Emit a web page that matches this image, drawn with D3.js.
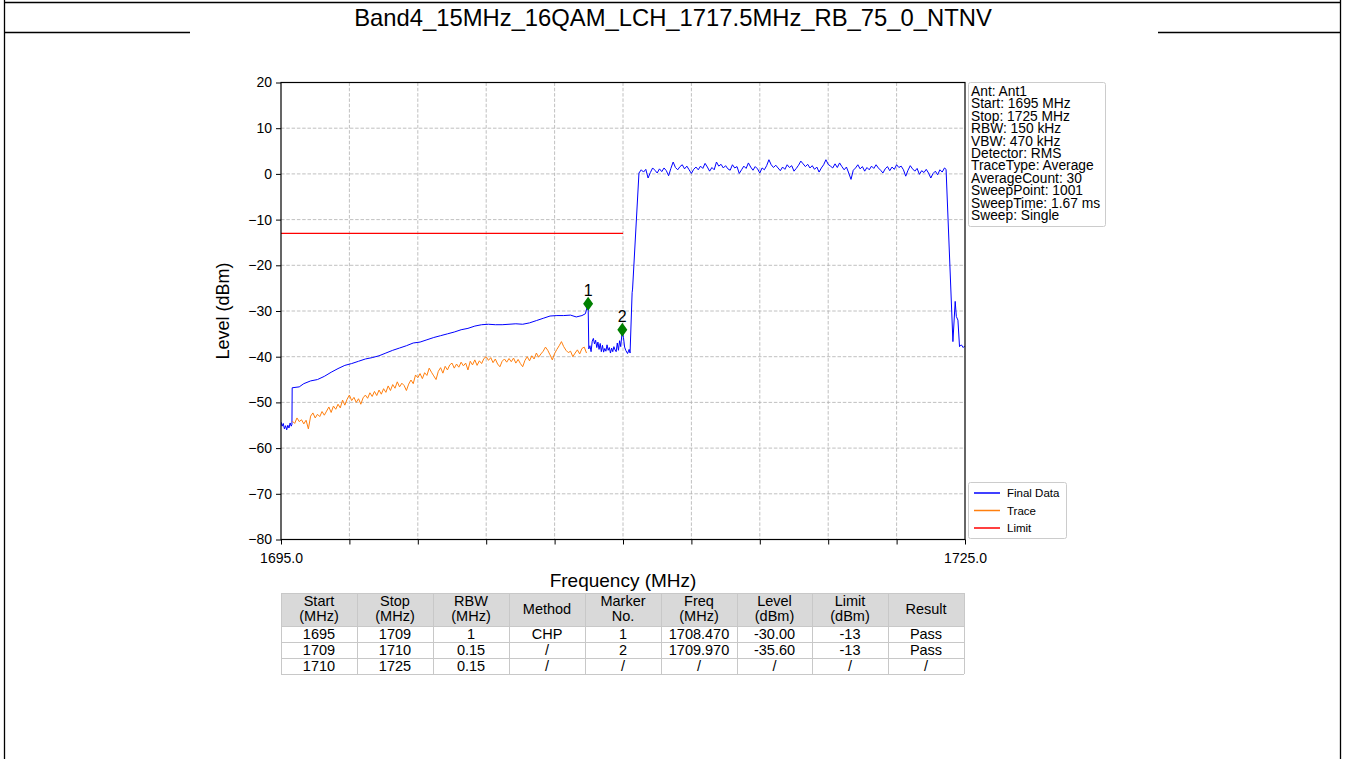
<!DOCTYPE html>
<html>
<head>
<meta charset="utf-8">
<script src="https://d3js.org/d3.v7.min.js"></script>
<style>
  html, body { margin: 0; padding: 0; background: #fff; }
  svg { display: block; font-family: "Liberation Sans", Arial, sans-serif; }
</style>
</head>
<body>
<svg id="chart" width="1345" height="759"></svg>
<script>
// ---------------- data ----------------
const title = "Band4_15MHz_16QAM_LCH_1717.5MHz_RB_75_0_NTNV";
const freqTicks = [1695, 1698, 1701, 1704, 1707, 1710, 1713, 1716, 1719, 1722, 1725];
const freqTickLabels = {1695: "1695.0", 1725: "1725.0"};
const levelTicks = [-80, -70, -60, -50, -40, -30, -20, -10, 0, 10, 20];

// Final Data (blue) [MHz, dBm]
const finalLow = [[1695.00,-54.3],[1695.05,-55.2],[1695.10,-54.6],[1695.15,-55.8],[1695.20,-55.1],[1695.25,-56.0],[1695.30,-55.0],[1695.35,-55.6],[1695.40,-54.5],[1695.45,-55.2],[1695.48,-54.8]];
const finalRise = [[1695.49,-46.8],[1695.8,-46.6],[1696.0,-45.9],[1696.3,-45.3],[1696.6,-45.0],[1696.9,-44.3],[1697.2,-43.4],[1697.5,-42.6],[1697.8,-41.9],[1698.1,-41.5],[1698.4,-41.0],[1698.7,-40.5],[1699.0,-40.2],[1699.3,-39.8],[1699.6,-39.2],[1699.9,-38.6],[1700.2,-38.1],[1700.5,-37.6],[1700.8,-37.0],[1701.1,-36.8],[1701.4,-36.3],[1701.7,-35.8],[1702.0,-35.4],[1702.3,-35.0],[1702.6,-34.6],[1702.9,-34.1],[1703.2,-33.8],[1703.5,-33.3],[1703.8,-33.0],[1704.1,-32.9],[1704.4,-33.0],[1704.7,-33.0],[1705.0,-32.9],[1705.3,-32.8],[1705.6,-32.9],[1705.9,-32.6],[1706.2,-32.1],[1706.5,-31.6],[1706.8,-31.1],[1707.1,-31.0],[1707.4,-31.0],[1707.7,-30.9],[1707.95,-31.3],[1708.2,-31.0],[1708.35,-30.6],[1708.47,-28.4]];
const finalGap = [[1708.50,-38.3],[1708.55,-37.6],[1708.60,-38.9],[1708.65,-36.6],[1708.70,-36.0],[1708.75,-37.2],[1708.80,-36.4],[1708.85,-38.0],[1708.90,-36.8],[1708.95,-38.4],[1709.00,-37.1],[1709.05,-38.9],[1709.10,-37.5],[1709.15,-39.0],[1709.20,-38.2],[1709.25,-38.8],[1709.30,-37.4],[1709.35,-38.6],[1709.40,-38.0],[1709.45,-39.2],[1709.50,-38.1],[1709.55,-38.9],[1709.60,-37.8],[1709.65,-38.5],[1709.70,-38.9],[1709.75,-37.0],[1709.80,-38.6],[1709.85,-36.5],[1709.90,-37.8],[1709.97,-34.1],[1710.02,-35.8],[1710.07,-37.9],[1710.12,-38.6],[1710.20,-39.3],[1710.27,-38.4],[1710.31,-39.2],[1710.40,-26.0],[1710.42,-25.2]];
const finalBand = [[1710.7,0.2],[1710.8,0.9],[1710.9,0.4],[1711.0,1.0],[1711.1,-0.9],[1711.2,0.3],[1711.3,1.3],[1711.4,0.8],[1711.5,0.2],[1711.6,1.1],[1711.7,0.5],[1711.8,1.3],[1711.9,0.7],[1712.0,-0.4],[1712.1,1.2],[1712.2,2.6],[1712.3,1.4],[1712.4,0.9],[1712.5,1.6],[1712.6,2.0],[1712.7,1.1],[1712.8,1.7],[1712.9,0.9],[1713.0,0.1],[1713.1,1.0],[1713.2,1.5],[1713.3,0.9],[1713.4,1.7],[1713.5,1.2],[1713.6,2.3],[1713.7,1.5],[1713.8,0.6],[1713.9,1.4],[1714.0,0.9],[1714.1,2.6],[1714.2,1.7],[1714.3,2.1],[1714.4,1.3],[1714.5,1.8],[1714.6,1.1],[1714.7,0.8],[1714.8,2.0],[1714.9,1.3],[1715.0,1.6],[1715.1,0.1],[1715.2,0.9],[1715.3,1.7],[1715.4,1.2],[1715.5,2.4],[1715.6,1.5],[1715.7,0.8],[1715.8,1.6],[1715.9,1.1],[1716.0,0.2],[1716.1,1.3],[1716.2,0.9],[1716.3,1.8],[1716.4,3.1],[1716.5,2.0],[1716.6,1.4],[1716.7,1.9],[1716.8,1.3],[1716.9,0.7],[1717.0,1.5],[1717.1,1.0],[1717.2,2.0],[1717.3,1.4],[1717.4,1.8],[1717.5,0.6],[1717.6,1.2],[1717.7,1.9],[1717.8,2.8],[1717.9,2.2],[1718.0,1.6],[1718.1,2.1],[1718.2,1.3],[1718.3,1.8],[1718.4,1.0],[1718.5,1.5],[1718.6,0.4],[1718.7,1.3],[1718.8,2.0],[1718.9,3.1],[1719.0,2.1],[1719.1,1.7],[1719.2,1.3],[1719.3,2.2],[1719.4,1.4],[1719.5,2.4],[1719.6,1.6],[1719.7,0.9],[1719.8,1.5],[1719.9,0.2],[1720.0,-1.2],[1720.1,0.8],[1720.2,1.3],[1720.3,2.0],[1720.4,1.1],[1720.5,1.6],[1720.6,0.6],[1720.7,1.4],[1720.8,0.9],[1720.9,1.7],[1721.0,1.2],[1721.1,2.0],[1721.2,1.3],[1721.3,0.8],[1721.4,0.2],[1721.5,1.1],[1721.6,1.6],[1721.7,0.7],[1721.8,1.5],[1721.9,1.0],[1722.0,2.0],[1722.1,1.4],[1722.2,1.7],[1722.3,0.9],[1722.4,-0.5],[1722.5,0.8],[1722.6,1.8],[1722.7,1.1],[1722.8,0.6],[1722.9,1.2],[1723.0,-0.1],[1723.1,0.7],[1723.2,0.3],[1723.3,1.0],[1723.4,0.2],[1723.5,-0.9],[1723.6,0.1],[1723.7,0.6],[1723.8,-0.2],[1723.9,0.9],[1724.0,0.4],[1724.1,1.3],[1724.17,1.0]];
const finalFall = [[1724.47,-36.7],[1724.57,-27.9],[1724.62,-31.2],[1724.69,-32.0],[1724.76,-37.8],[1724.84,-37.4],[1724.92,-38.0],[1725.0,-37.6]];

// Trace (orange) [MHz, dBm]
const traceData = [[1695.5,-54.1],[1695.6,-54.6],[1695.7,-53.4],[1695.8,-54.2],[1695.9,-53.8],[1696.0,-54.7],[1696.1,-53.9],[1696.2,-55.8],[1696.3,-53.0],[1696.4,-52.3],[1696.5,-53.4],[1696.6,-52.6],[1696.7,-53.1],[1696.8,-52.0],[1696.9,-52.8],[1697.0,-51.9],[1697.1,-51.0],[1697.2,-52.2],[1697.3,-50.8],[1697.4,-51.5],[1697.5,-50.4],[1697.6,-51.2],[1697.7,-49.5],[1697.8,-50.6],[1697.9,-49.3],[1698.0,-48.4],[1698.1,-49.6],[1698.2,-48.9],[1698.3,-50.0],[1698.4,-49.2],[1698.5,-50.4],[1698.6,-49.0],[1698.7,-48.4],[1698.8,-49.1],[1698.9,-47.9],[1699.0,-48.7],[1699.1,-47.6],[1699.2,-48.5],[1699.3,-47.3],[1699.4,-48.2],[1699.5,-47.0],[1699.6,-47.8],[1699.7,-46.4],[1699.8,-47.4],[1699.9,-46.1],[1700.0,-46.9],[1700.1,-45.5],[1700.2,-46.6],[1700.3,-45.8],[1700.4,-46.3],[1700.5,-47.4],[1700.6,-46.0],[1700.7,-45.1],[1700.8,-45.9],[1700.9,-44.0],[1701.0,-44.6],[1701.1,-43.7],[1701.2,-44.8],[1701.3,-43.5],[1701.4,-44.1],[1701.5,-42.5],[1701.6,-43.4],[1701.7,-44.2],[1701.8,-45.0],[1701.9,-43.2],[1702.0,-42.4],[1702.1,-43.6],[1702.2,-42.1],[1702.3,-42.9],[1702.4,-41.8],[1702.5,-41.4],[1702.6,-42.5],[1702.7,-41.6],[1702.8,-42.3],[1702.9,-41.2],[1703.0,-42.0],[1703.1,-41.4],[1703.2,-42.9],[1703.3,-41.0],[1703.4,-41.8],[1703.5,-40.7],[1703.6,-41.9],[1703.7,-40.9],[1703.8,-41.5],[1703.9,-40.4],[1704.0,-40.0],[1704.1,-40.8],[1704.2,-40.2],[1704.3,-41.3],[1704.4,-40.5],[1704.5,-41.6],[1704.6,-42.2],[1704.7,-41.0],[1704.8,-40.5],[1704.9,-41.2],[1705.0,-40.4],[1705.1,-41.1],[1705.2,-40.3],[1705.3,-41.4],[1705.4,-40.6],[1705.5,-41.5],[1705.6,-42.2],[1705.7,-40.8],[1705.8,-40.0],[1705.9,-40.9],[1706.0,-39.8],[1706.1,-40.5],[1706.2,-39.2],[1706.3,-40.1],[1706.4,-39.4],[1706.5,-38.8],[1706.6,-37.9],[1706.7,-38.6],[1706.8,-39.6],[1706.9,-40.7],[1707.0,-39.3],[1707.1,-38.4],[1707.2,-37.6],[1707.3,-36.7],[1707.4,-37.8],[1707.5,-38.6],[1707.6,-39.1],[1707.7,-38.8],[1707.8,-40.0],[1707.9,-39.2],[1708.0,-38.5],[1708.1,-39.4],[1708.2,-38.2],[1708.3,-37.9],[1708.4,-39.2]];

// Limit (red)
const limitData = [[1695, -13], [1710, -13]];

// Markers
const markerNo = ["1", "2"];
const markerFreq = [1708.47, 1709.97];
const markerLevel = [-28.4, -34.1];

// Instrument settings
const infoLines = ["Ant: Ant1", "Start: 1695 MHz", "Stop: 1725 MHz", "RBW: 150 kHz", "VBW: 470 kHz", "Detector: RMS", "TraceType: Average", "AverageCount: 30", "SweepPoint: 1001", "SweepTime: 1.67 ms", "Sweep: Single"];

// Legend
const legendNames = ["Final Data", "Trace", "Limit"];
const legendColors = ["#0000ff", "#ff7f0e", "#ff0000"];

// Result table
const tableHeader = [["Start", "(MHz)"], ["Stop", "(MHz)"], ["RBW", "(MHz)"], ["Method"], ["Marker", "No."], ["Freq", "(MHz)"], ["Level", "(dBm)"], ["Limit", "(dBm)"], ["Result"]];
const tableRows = [
  ["1695", "1709", "1", "CHP", "1", "1708.470", "-30.00", "-13", "Pass"],
  ["1709", "1710", "0.15", "/", "2", "1709.970", "-35.60", "-13", "Pass"],
  ["1710", "1725", "0.15", "/", "/", "/", "/", "/", "/"]
];

// ---------------- drawing ----------------
const svg = d3.select("#chart");
svg.append("rect").attr("width", 1345).attr("height", 759).attr("fill", "#fff");

// page frame
const frame = svg.append("g").attr("stroke", "#000").attr("stroke-width", 1.3);
frame.append("line").attr("x1", 4.5).attr("x2", 4.5).attr("y1", 0).attr("y2", 759);
frame.append("line").attr("x1", 1340.5).attr("x2", 1340.5).attr("y1", 0).attr("y2", 759);
frame.append("line").attr("x1", 4).attr("x2", 1341).attr("y1", 2.5).attr("y2", 2.5);
frame.append("line").attr("x1", 4).attr("x2", 190).attr("y1", 32.5).attr("y2", 32.5);
frame.append("line").attr("x1", 1158).attr("x2", 1341).attr("y1", 32.5).attr("y2", 32.5);

svg.append("text").attr("x", 673).attr("y", 26).attr("text-anchor", "middle")
  .attr("font-size", 23.8).attr("fill", "#000").text(title);

const X0 = 281, X1 = 965, Y0 = 82.5, Y1 = 539.5;
const x = d3.scaleLinear().domain([1695, 1725]).range([X0, X1]);
const y = d3.scaleLinear().domain([-80, 20]).range([Y1, Y0]);

// grid
const grid = svg.append("g").attr("stroke", "#b0b0b0").attr("stroke-width", 0.8).attr("stroke-dasharray", "3.5,1.8");
grid.selectAll("line.h").data(levelTicks.slice(1, -1)).join("line")
  .attr("x1", X0).attr("x2", X1).attr("y1", d => y(d)).attr("y2", d => y(d));
grid.selectAll("line.v").data(freqTicks.slice(1, -1)).join("line")
  .attr("y1", Y0).attr("y2", Y1).attr("x1", d => x(d)).attr("x2", d => x(d));

// traces
const line = d3.line().x(d => x(d[0])).y(d => y(d[1]));
const clip = svg.append("defs").append("clipPath").attr("id", "plotclip");
clip.append("rect").attr("x", X0).attr("y", Y0).attr("width", X1 - X0).attr("height", Y1 - Y0);
const plot = svg.append("g").attr("clip-path", "url(#plotclip)");
const finalData = finalLow.concat(finalRise, finalGap, finalBand, finalFall);
plot.append("path").datum(finalData).attr("d", line).attr("fill", "none")
  .attr("stroke", legendColors[0]).attr("stroke-width", 1).attr("stroke-linejoin", "round");
plot.append("path").datum(traceData).attr("d", line).attr("fill", "none")
  .attr("stroke", legendColors[1]).attr("stroke-width", 1).attr("stroke-linejoin", "round");
plot.append("path").datum(limitData).attr("d", line).attr("fill", "none")
  .attr("stroke", legendColors[2]).attr("stroke-width", 1.3);

// markers
const mk = svg.append("g");
markerNo.forEach((m, i) => {
  const cx = x(markerFreq[i]), cy = y(markerLevel[i]);
  mk.append("path").attr("d", `M${cx},${cy - 7}L${cx + 5},${cy}L${cx},${cy + 7}L${cx - 5},${cy}Z`)
    .attr("fill", "#008000");
  mk.append("text").attr("x", cx).attr("y", cy - 7.5).attr("text-anchor", "middle")
    .attr("font-size", 16).attr("fill", "#000").text(m);
});

// axes
const yAxis = d3.axisLeft(y).tickValues(levelTicks).tickSize(5).tickPadding(4)
  .tickFormat(d => d < 0 ? "\u2212" + Math.abs(d) : String(d));
const gy = svg.append("g").attr("transform", `translate(${X0},0)`).call(yAxis);
gy.selectAll("text").attr("font-size", 14).attr("font-family", "Liberation Sans, Arial, sans-serif").attr("fill", "#000");
gy.select(".domain").remove();

const xAxis = d3.axisBottom(x).tickValues(freqTicks).tickSize(5).tickPadding(9)
  .tickFormat(d => freqTickLabels[d] || "");
const gx = svg.append("g").attr("transform", `translate(0,${Y1})`).call(xAxis);
gx.selectAll("text").attr("font-size", 14).attr("font-family", "Liberation Sans, Arial, sans-serif").attr("fill", "#000");
gx.select(".domain").remove();
svg.selectAll(".tick line").attr("stroke", "#000").attr("stroke-width", 1);

svg.append("rect").attr("x", X0).attr("y", Y0).attr("width", X1 - X0).attr("height", Y1 - Y0)
  .attr("fill", "none").attr("stroke", "#000").attr("stroke-width", 1.2);

svg.append("text").attr("x", (X0 + X1) / 2).attr("y", 587).attr("text-anchor", "middle")
  .attr("font-size", 19).attr("fill", "#000").text("Frequency (MHz)");
svg.append("text").attr("transform", `translate(229,${(Y0 + Y1) / 2}) rotate(-90)`)
  .attr("text-anchor", "middle").attr("font-size", 18).attr("fill", "#000").text("Level (dBm)");

// info box
const info = svg.append("g");
info.append("rect").attr("x", 968.5).attr("y", 82.5).attr("width", 137).attr("height", 144).attr("rx", 2)
  .attr("fill", "#fff").attr("stroke", "#cccccc").attr("stroke-width", 1);
info.selectAll("text").data(infoLines).join("text")
  .attr("x", 971).attr("y", (d, i) => 96 + i * 12.4).attr("font-size", 13.8).attr("fill", "#000").text(d => d);

// legend
const leg = svg.append("g");
leg.append("rect").attr("x", 968.5).attr("y", 482.5).attr("width", 98).attr("height", 56).attr("rx", 2)
  .attr("fill", "#fff").attr("stroke", "#cccccc").attr("stroke-width", 1);
legendNames.forEach((n, i) => {
  const ly = 493 + i * 17.5;
  leg.append("line").attr("x1", 974).attr("x2", 1000).attr("y1", ly).attr("y2", ly)
    .attr("stroke", legendColors[i]).attr("stroke-width", 1.5);
  leg.append("text").attr("x", 1007).attr("y", ly + 4).attr("font-size", 11.5).attr("fill", "#000").text(n);
});

// table
const colEdges = [281, 357, 433, 509, 585, 661, 737, 812, 888, 964];
const rowEdges = [593, 626, 642, 658, 674];
const tbl = svg.append("g");
tbl.append("rect").attr("x", colEdges[0]).attr("y", rowEdges[0]).attr("width", colEdges[9] - colEdges[0])
  .attr("height", rowEdges[1] - rowEdges[0]).attr("fill", "#d9d9d9");
tableHeader.forEach((h, c) => {
  const cx = (colEdges[c] + colEdges[c + 1]) / 2;
  h.forEach((t, k) => {
    const ty = h.length === 1 ? 614 : 606 + k * 15;
    tbl.append("text").attr("x", cx).attr("y", ty).attr("text-anchor", "middle")
      .attr("font-size", 14.5).attr("fill", "#000").text(t);
  });
});
tableRows.forEach((r, ri) => {
  r.forEach((t, c) => {
    tbl.append("text").attr("x", (colEdges[c] + colEdges[c + 1]) / 2).attr("y", rowEdges[ri + 1] + 13)
      .attr("text-anchor", "middle").attr("font-size", 14.5).attr("fill", "#000").text(t);
  });
});
const tl = tbl.append("g").attr("stroke", "#c8c8c8").attr("stroke-width", 1);
colEdges.forEach(cx => tl.append("line").attr("x1", cx + 0.5).attr("x2", cx + 0.5).attr("y1", rowEdges[0]).attr("y2", rowEdges[4]));
rowEdges.forEach(ry => tl.append("line").attr("x1", colEdges[0]).attr("x2", colEdges[9]).attr("y1", ry + 0.5).attr("y2", ry + 0.5));
</script>
</body>
</html>
